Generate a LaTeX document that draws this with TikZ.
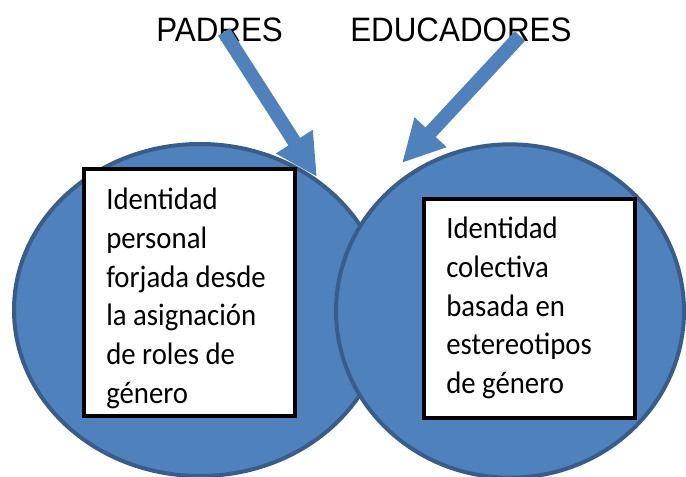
\documentclass[tikz,border=0pt]{standalone}
\usepackage{fontspec}
\setmainfont{Carlito}[FakeStretch = 0.926]
\newfontfamily\titlefont{Liberation Sans}[FakeStretch = 0.926]
\usetikzlibrary{arrows.meta, positioning, shapes.geometric}
\definecolor{azul}{HTML}{4F81BD}
\definecolor{azulborde}{HTML}{385D8A}
\tikzset{
        circulo/.style = {ellipse, draw = azulborde, fill = azul, line width = 3pt, inner sep = 0pt},
        caja/.style = {rectangle, draw = black, fill = white, line width = 3pt, inner sep = 0pt},
        texto/.style = {anchor = north west, inner sep = 0pt, align = left, font = \fontsize{23.3}{29}\selectfont},
        titulo/.style = {anchor = base west, inner sep = 0pt, font = \titlefont\fontsize{25.4}{30}\selectfont},
        flecha/.style = {draw = azul, line width = 10.5pt, -{Triangle[length = 31.5pt, width = 30.5pt]}}
}

\begin{document}
\begin{tikzpicture}[x = 0.75pt, y = -0.75pt]
        \useasboundingbox (0,0) rectangle (686,477);
        \node[circulo, minimum width = 279pt, minimum height = 249pt] (personal) at (200,310) {};
        \node[circulo, minimum width = 261pt, minimum height = 250pt] (colectiva) at (510,311) {};
        \node[caja, minimum width = 158.25pt, minimum height = 185.25pt] (cajaP) at (189.5,292.5) {};
        \node[caja, minimum width = 158.25pt, minimum height = 164.25pt] (cajaC) at (529.5,308.5) {};
        \node[texto] (textoP) at (106,188) {Identidad\\personal\\forjada desde\\la asignación\\de roles de\\género};
        \node[texto] (textoC) at (446,217) {Identidad\\colectiva\\basada en\\estereotipos\\de género};
        \node[titulo] (padres) at (156,42) {PADRES};
        \node[titulo] (educadores) at (350,42) {EDUCADORES};
        \coordinate (colaP) at (224,32);
        \coordinate (puntaP) at (317,177);
        \coordinate (colaE) at (520,36);
        \coordinate (puntaE) at (402,163);
        \draw[flecha] (colaP) -- (puntaP);
        \draw[flecha] (colaE) -- (puntaE);
\end{tikzpicture}
\end{document}
